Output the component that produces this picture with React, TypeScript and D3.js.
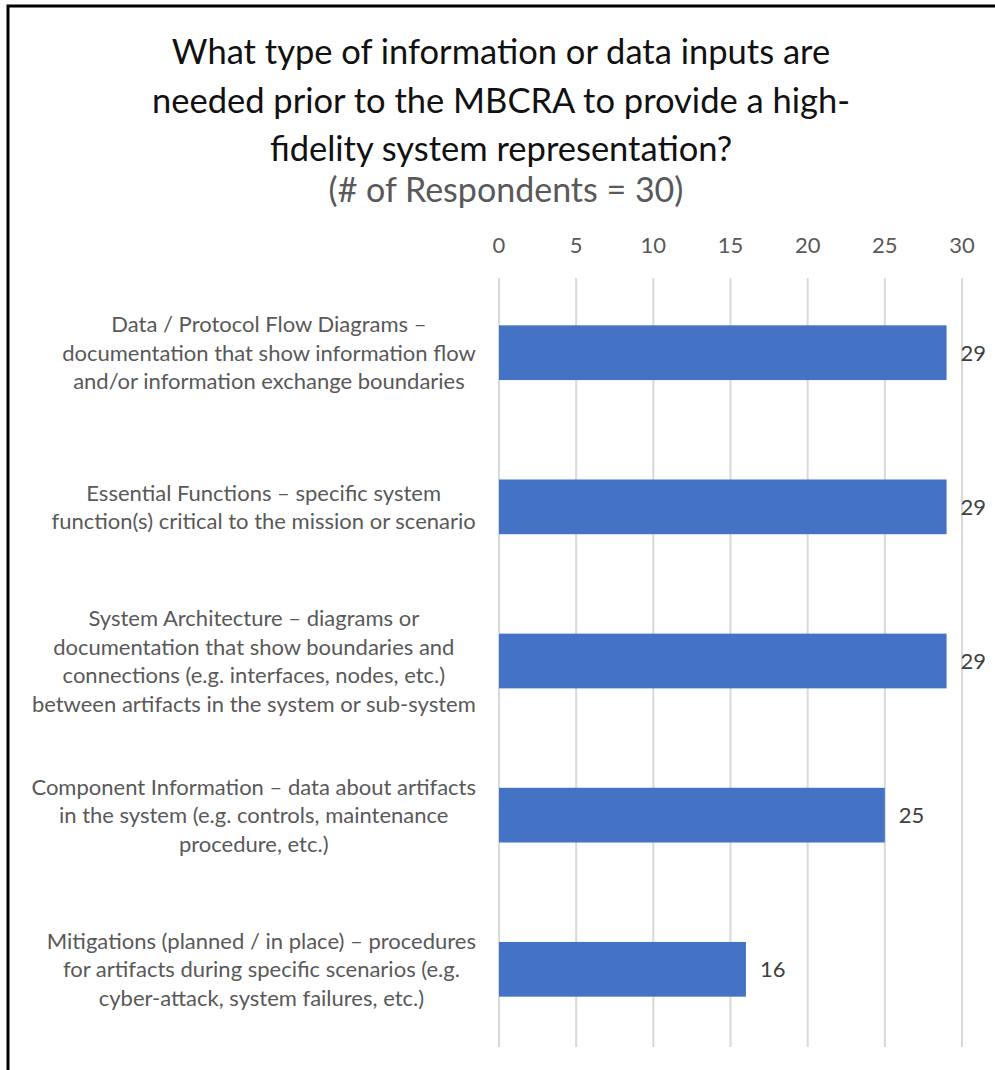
import React from "react";
import * as d3 from "d3";

const titleLines = [
  "What type of information or data inputs are",
  "needed prior to the MBCRA to provide a high-",
  "fidelity system representation?",
];
const subtitle = "(# of Respondents = 30)";

const categories: string[][] = [
  ["Data / Protocol Flow Diagrams –", "documentation that show information flow", "and/or information exchange boundaries"],
  ["Essential Functions – specific system", "function(s) critical to the mission or scenario"],
  ["System Architecture – diagrams or", "documentation that show boundaries and", "connections (e.g. interfaces, nodes, etc.)", "between artifacts in the system or sub-system"],
  ["Component Information – data about artifacts", "in the system (e.g. controls, maintenance", "procedure, etc.)"],
  ["Mitigations (planned / in place) – procedures", "for artifacts during specific scenarios (e.g.", "cyber-attack, system failures, etc.)"],
];
const values = [29, 29, 29, 25, 16];
const ticks = [0, 5, 10, 15, 20, 25, 30];

const W = 995;
const H = 1070;
const FONT = "Lato, 'Open Sans', sans-serif";
const LABEL_SIZE = 22;

let ctx: CanvasRenderingContext2D | null = null;
function measure(s: string): number {
  if (!ctx) {
    const c = document.createElement("canvas");
    ctx = c.getContext("2d");
  }
  if (!ctx) return s.length * 10;
  ctx.font = `${LABEL_SIZE}px Lato, 'Open Sans', sans-serif`;
  return ctx.measureText(s).width;
}

export default function App() {
  const x = d3.scaleLinear().domain([0, 30]).range([499, 962]);
  const y = d3
    .scaleBand<number>()
    .domain(d3.range(categories.length))
    .range([276, 1046])
    .paddingInner(0.645)
    .paddingOuter(0.32);
  const lineH = 28.5;
  const labelRight = 476;

  return (
    <svg
      width={W}
      height={H}
      style={{ position: "absolute", left: 0, top: 0, background: "#fff" }}
    >
      <rect x={0} y={0} width={W} height={H} fill="#fff" />
      <path d={`M8,${H} V6 H${W}`} fill="none" stroke="#000" strokeWidth={3} />
      {titleLines.map((t, i) => (
        <text
          key={i}
          x={501}
          y={64 + i * 48.5}
          textAnchor="middle"
          fontFamily={FONT}
          fontSize={34.5}
          fill="#111"
        >
          {t}
        </text>
      ))}
      <text x={506} y={202} textAnchor="middle" fontFamily={FONT} fontSize={34} fill="#595959">
        {subtitle}
      </text>
      {ticks.map((t) => (
        <g key={t}>
          <line x1={x(t)} x2={x(t)} y1={278} y2={1047} stroke="#d9d9d9" strokeWidth={2} />
          <text x={x(t)} y={253} textAnchor="middle" fontFamily={FONT} fontSize={22} fill="#595959">
            {t}
          </text>
        </g>
      ))}
      {values.map((v, i) => {
        const y0 = y(i)!;
        const bh = y.bandwidth();
        const cy = y0 + bh / 2;
        const lines = categories[i];
        const maxW = d3.max(lines, measure) || 0;
        const cx = labelRight - maxW / 2;
        return (
          <g key={i}>
            <rect x={x(0)} y={y0} width={x(v) - x(0)} height={bh} fill="#4472C4" />
            <text
              x={x(v) + 14}
              y={cy + 8}
              fontFamily={FONT}
              fontSize={22}
              fill="#404040"
            >
              {v}
            </text>
            {lines.map((l, j) => (
              <text
                key={j}
                x={cx}
                y={cy + (j - (lines.length - 1) / 2) * lineH + 8}
                textAnchor="middle"
                fontFamily={FONT}
                fontSize={LABEL_SIZE}
                fill="#595959"
              >
                {l}
              </text>
            ))}
          </g>
        );
      })}
    </svg>
  );
}
